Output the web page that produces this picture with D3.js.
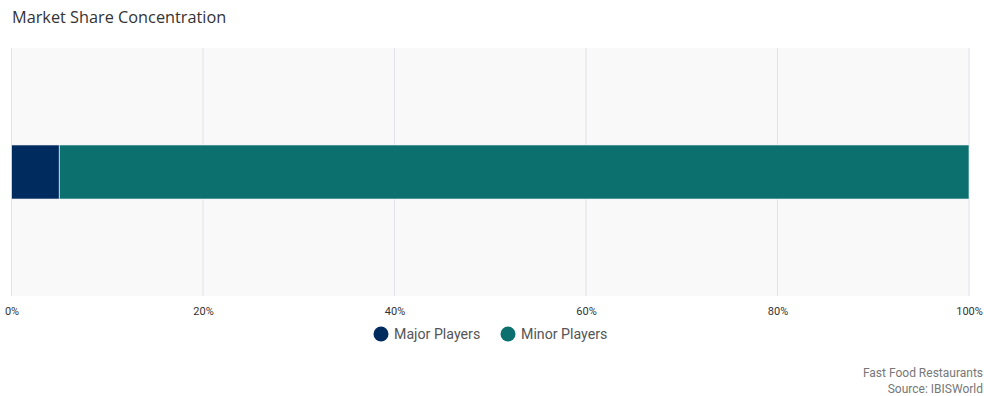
<!DOCTYPE html>
<html>
<head>
<meta charset="utf-8">
<script src="https://cdn.jsdelivr.net/npm/d3@7"></script>
<style>
  body { margin: 0; background: #fff; }
  svg text { font-family: Roboto, sans-serif; }
</style>
</head>
<body>
<svg id="chart" width="984" height="396"></svg>
<script>
const series = ['Major Players', 'Minor Players'];
const shares = [5, 95];
const colors = ['#002b5f', '#0c706e'];
const tickValues = [0, 20, 40, 60, 80, 100];
const category = ['Fast Food Restaurants'];

const width = 984, height = 396;
const margin = { left: 11.5, right: 15, top: 48, bottom: 100 };
const svg = d3.select('#chart');

// title
svg.append('text')
  .attr('x', 12).attr('y', 23)
  .style('font-family', '"Open Sans", sans-serif')
  .style('font-size', '16.3px')
  .attr('fill', '#333')
  .text('Market Share Concentration');

const x = d3.scaleLinear()
  .domain([0, 100])
  .range([margin.left, width - margin.right]);

const y = d3.scaleBand()
  .domain(category)
  .range([margin.top, height - margin.bottom])
  .padding(0.642);

// plot background
svg.append('rect')
  .attr('x', x(0)).attr('y', margin.top)
  .attr('width', x(100) - x(0))
  .attr('height', height - margin.bottom - margin.top)
  .attr('fill', '#f9f9f9');

// grid
svg.append('g')
  .selectAll('line')
  .data(tickValues)
  .join('line')
  .attr('x1', d => x(d)).attr('x2', d => x(d))
  .attr('y1', margin.top).attr('y2', height - margin.bottom)
  .attr('stroke', '#e2e2ea')
  .attr('stroke-width', 1);

// stacked bar
const stacked = [];
let acc = 0;
shares.forEach((v, i) => { stacked.push({ s: series[i], x0: acc, x1: acc + v, c: colors[i] }); acc += v; });

svg.append('g')
  .selectAll('rect')
  .data(stacked)
  .join('rect')
  .attr('x', d => x(d.x0))
  .attr('width', d => x(d.x1) - x(d.x0))
  .attr('y', y(category[0]))
  .attr('height', y.bandwidth())
  .attr('fill', d => d.c)
  .attr('stroke', '#fff')
  .attr('stroke-opacity', 0.6)
  .attr('stroke-width', 1);

// x axis
const xAxis = d3.axisBottom(x)
  .tickValues(tickValues)
  .tickSize(0)
  .tickPadding(0)
  .tickFormat(d => d + '%');
const gx = svg.append('g')
  .attr('transform', `translate(0, ${height - margin.bottom + 19})`)
  .call(xAxis);
gx.select('.domain').remove();
gx.selectAll('text')
  .attr('fill', '#333')
  .style('font-size', '11px')
  .attr('dy', 0);

// legend
const legendItems = [{ x: 381 }, { x: 508 }];
const lg = svg.append('g');
series.forEach((s, i) => {
  const g = lg.append('g').attr('transform', `translate(${legendItems[i].x}, 334)`);
  g.append('circle').attr('r', 7.5).attr('fill', colors[i]);
  g.append('text')
    .attr('x', 13).attr('y', 5)
    .style('font-size', '14.2px')
    .attr('fill', '#555')
    .text(s);
});

// source
svg.append('text')
  .attr('x', 983).attr('y', 377)
  .attr('text-anchor', 'end')
  .style('font-size', '12px')
  .attr('fill', '#777')
  .text(category[0]);
svg.append('text')
  .attr('x', 983).attr('y', 393)
  .attr('text-anchor', 'end')
  .style('font-size', '12px')
  .attr('fill', '#777')
  .text('Source: IBISWorld');
</script>
</body>
</html>
